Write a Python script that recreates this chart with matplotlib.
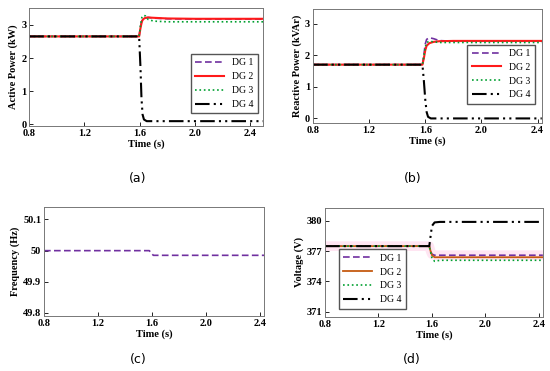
import numpy as np
import matplotlib
matplotlib.use("Agg")
import matplotlib.pyplot as plt

plt.rcParams['font.family'] = ['Liberation Serif', 'DejaVu Serif']
plt.rcParams['font.size'] = 7

# (a) active power, kW
t_a = [0.8, 1.595, 1.605, 1.615, 1.625, 1.64, 1.66, 1.7, 1.8, 2.0, 2.5]
p_dg1 = [2.65, 2.65, 2.95, 3.12, 3.16, 3.2, 3.22, 3.2, 3.18, 3.17, 3.17]
p_dg2 = [2.65, 2.65, 2.9, 3.1, 3.17, 3.21, 3.22, 3.21, 3.19, 3.18, 3.18]
p_dg3 = [2.65, 2.65, 2.98, 3.22, 3.28, 3.27, 3.16, 3.11, 3.09, 3.09, 3.09]
t_a4 = [0.8, 1.595, 1.605, 1.612, 1.62, 1.63, 1.65, 2.5]
p_dg4 = [2.65, 2.65, 1.7, 0.8, 0.3, 0.15, 0.1, 0.1]

# (b) reactive power, kVAr
t_b = [0.8, 1.58, 1.59, 1.6, 1.61, 1.63, 1.66, 1.7, 1.8, 2.43]
q_dg1 = [1.7, 1.7, 2.0, 2.35, 2.5, 2.55, 2.52, 2.46, 2.44, 2.44]
q_dg2 = [1.7, 1.7, 1.9, 2.15, 2.3, 2.38, 2.42, 2.44, 2.45, 2.45]
q_dg3 = [1.7, 1.7, 1.95, 2.25, 2.4, 2.44, 2.42, 2.4, 2.4, 2.4]
t_b4 = [0.8, 1.58, 1.59, 1.6, 1.61, 1.62, 1.64, 2.43]
q_dg4 = [1.7, 1.7, 1.2, 0.6, 0.2, 0.05, 0.0, 0.0]

# (c) frequency, Hz
t_c = [0.8, 1.58, 1.61, 2.43]
f_sys = [50.0, 50.0, 49.985, 49.985]

# (d) voltage, V
t_d = [0.8, 1.58, 1.59, 1.6, 1.62, 1.66, 1.7, 2.43]
v_dg1 = [377.5, 377.5, 377.0, 376.7, 376.6, 376.6, 376.6, 376.6]
v_dg2 = [377.5, 377.5, 377.0, 376.6, 376.4, 376.4, 376.4, 376.4]
v_dg3 = [377.5, 377.5, 376.9, 376.3, 376.0, 376.1, 376.1, 376.1]
t_d4 = [0.8, 1.58, 1.59, 1.6, 1.62, 1.66, 2.43]
v_dg4 = [377.5, 377.5, 378.5, 379.5, 379.85, 379.9, 379.9]

labels = ['DG 1', 'DG 2', 'DG 3', 'DG 4']
purple = '#7030a0'
red = '#ff1a1a'
green = '#00a030'
brown = '#c55a11'

fig = plt.figure(figsize=(5.5, 3.71), dpi=100)
ax_a = fig.add_axes([0.053, 0.660, 0.425, 0.318])
ax_b = fig.add_axes([0.569, 0.668, 0.416, 0.307])
ax_c = fig.add_axes([0.080, 0.148, 0.400, 0.294])
ax_d = fig.add_axes([0.591, 0.146, 0.396, 0.294])

dash4 = (0, (7, 2, 1, 2, 1, 2))
leg_kw = dict(fontsize=7, fancybox=False, edgecolor='#555555', handlelength=3.0,
              borderpad=0.45, labelspacing=0.5, handletextpad=0.8,
              framealpha=1.0)

ax_a.plot(t_a, p_dg1, color=purple, ls=(0, (4, 2)), lw=1.2, label=labels[0])
ax_a.plot(t_a, p_dg2, color=red, ls='-', lw=1.5, label=labels[1])
ax_a.plot(t_a, p_dg3, color=green, ls=':', lw=1.2, label=labels[2])
ax_a.plot(t_a4, p_dg4, color='black', ls=dash4, lw=1.5, label=labels[3])
ax_a.set_xlim(0.8, 2.49)
ax_a.set_ylim(-0.05, 3.5)
ax_a.set_yticks([0, 1, 2, 3])
ax_a.set_ylabel('Active Power (kW)', fontweight='bold', labelpad=2)
ax_a.legend(loc='center right', bbox_to_anchor=(1.0, 0.36), **leg_kw)

ax_b.plot(t_b, q_dg1, color=purple, ls=(0, (4, 2)), lw=1.2, label=labels[0])
ax_b.plot(t_b, q_dg2, color=red, ls='-', lw=1.5, label=labels[1])
ax_b.plot(t_b, q_dg3, color=green, ls=':', lw=1.2, label=labels[2])
ax_b.plot(t_b4, q_dg4, color='black', ls=dash4, lw=1.5, label=labels[3])
ax_b.set_xlim(0.8, 2.43)
ax_b.set_ylim(-0.15, 3.45)
ax_b.set_yticks([0, 1, 2, 3])
ax_b.set_ylabel('Reactive Power (kVAr)', fontweight='bold', labelpad=2)
ax_b.legend(loc='center right', bbox_to_anchor=(0.99, 0.43), **leg_kw)

ax_c.plot(t_c, f_sys, color=purple, ls=(0, (4, 2)), lw=1.2)
ax_c.set_xlim(0.8, 2.43)
ax_c.set_ylim(49.79, 50.14)
ax_c.set_yticks([49.8, 49.9, 50.0, 50.1])
ax_c.set_yticklabels(['49.8', '49.9', '50', '50.1'])
ax_c.set_ylabel('Frequency (Hz)', fontweight='bold', labelpad=2)

ax_d.plot(t_d, v_dg1, color='#ffc0e0', ls='-', lw=7, alpha=0.4)
ax_d.plot(t_d, v_dg1, color=purple, ls=(0, (4, 2)), lw=1.2, label=labels[0])
ax_d.plot(t_d, v_dg2, color=brown, ls='-', lw=1.3, label=labels[1])
ax_d.plot(t_d, v_dg3, color=green, ls=':', lw=1.2, label=labels[2])
ax_d.plot(t_d4, v_dg4, color='black', ls=dash4, lw=1.5, label=labels[3])
ax_d.set_xlim(0.8, 2.43)
ax_d.set_ylim(370.5, 381.3)
ax_d.set_yticks([371, 374, 377, 380])
ax_d.set_ylabel('Voltage (V)', fontweight='bold', labelpad=2)
ax_d.legend(loc='lower left', bbox_to_anchor=(0.04, 0.03), **leg_kw)

for ax in [ax_a, ax_b, ax_c, ax_d]:
    ax.set_xticks([0.8, 1.2, 1.6, 2.0, 2.4])
    ax.set_xticklabels(['0.8', '1.2', '1.6', '2.0', '2.4'])
    ax.set_xlabel('Time (s)', fontweight='bold', labelpad=1, fontsize=7.5)
    ax.yaxis.label.set_fontsize(7.5)
    ax.tick_params(direction='in', length=3, width=0.6, labelsize=7.5, pad=2)
    for lbl in ax.get_xticklabels() + ax.get_yticklabels():
        lbl.set_fontweight('bold')
    for s in ax.spines.values():
        s.set_color('#777777')
        s.set_linewidth(0.7)

fig.text(0.250, 0.520, '(a)', ha='center', va='center', fontsize=9, family='DejaVu Sans')
fig.text(0.750, 0.520, '(b)', ha='center', va='center', fontsize=9, family='DejaVu Sans')
fig.text(0.251, 0.030, '(c)', ha='center', va='center', fontsize=9, family='DejaVu Sans')
fig.text(0.749, 0.030, '(d)', ha='center', va='center', fontsize=9, family='DejaVu Sans')

fig.savefig('out.png', dpi=100)
